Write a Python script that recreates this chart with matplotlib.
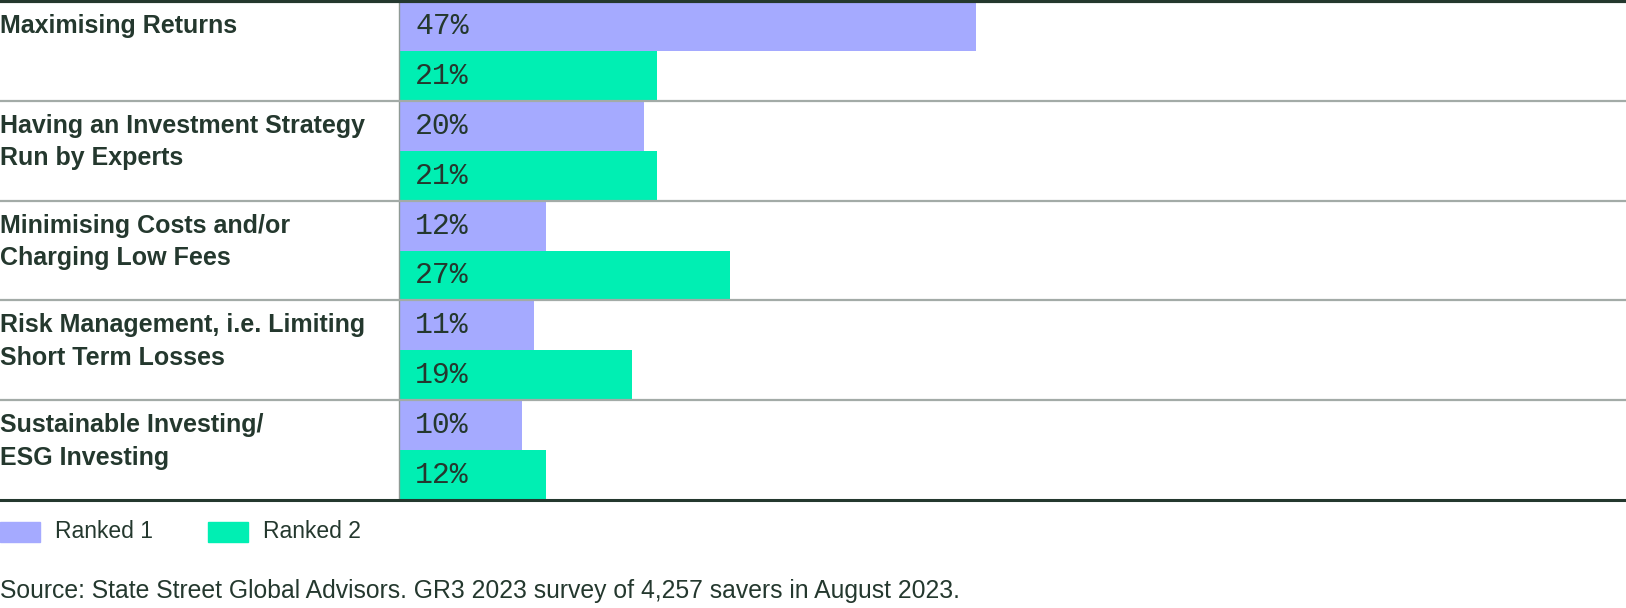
import matplotlib
matplotlib.use("Agg")
import matplotlib.pyplot as plt
import matplotlib.transforms as mtransforms
from matplotlib.patches import Rectangle

categories = ["Maximising Returns",
              "Having an Investment Strategy\nRun by Experts",
              "Minimising Costs and/or\nCharging Low Fees",
              "Risk Management, i.e. Limiting\nShort Term Losses",
              "Sustainable Investing/\nESG Investing"]
ranked1 = [47, 20, 12, 11, 10]
ranked2 = [21, 21, 27, 19, 12]
series_names = ["Ranked 1", "Ranked 2"]
source = "Source: State Street Global Advisors. GR3 2023 survey of 4,257 savers in August 2023."

PURPLE, GREEN = "#a5aaff", "#00efb3"
DARK, GREY = "#24382e", "#a3aba7"

W, H = 1626, 608
fig = plt.figure(figsize=(W / 100, H / 100), dpi=100)
ax = fig.add_axes([399 / W, 1 - 500 / H, (W - 399) / W, 499 / H])

n = len(categories)
y1 = [2 * i + 0.5 for i in range(n)]
y2 = [2 * i + 1.5 for i in range(n)]
ax.barh(y1, ranked1, height=1.0, color=PURPLE, zorder=2)
ax.barh(y2, ranked2, height=1.0, color=GREEN, zorder=2)
for ys, vals in ((y1, ranked1), (y2, ranked2)):
    for y, v in zip(ys, vals):
        ax.annotate(f"{v}%", (0, y), xytext=(16, 0), textcoords="offset pixels",
                    va="center", ha="left", fontsize=21.5, color=DARK,
                    family="Liberation Mono", zorder=3)

ax.set_xlim(0, 100)
ax.set_ylim(2 * n, 0)
ax.set_xticks([]); ax.set_yticks([])
for s in ("top", "right", "bottom"):
    ax.spines[s].set_visible(False)
ax.spines["left"].set_color("#8f9a95"); ax.spines["left"].set_linewidth(1)

# full-width rules and category labels
tr = mtransforms.blended_transform_factory(fig.transFigure, ax.transData)
for k in range(1, n):
    ax.plot([0, 1], [2 * k, 2 * k], transform=tr, color=GREY, lw=1.6, clip_on=False, zorder=4)
ax.plot([0, 1], [0, 0], transform=tr, color=DARK, lw=3, clip_on=False, zorder=5)
ax.plot([0, 1], [2 * n, 2 * n], transform=tr, color=DARK, lw=2.2, clip_on=False, zorder=5)
for i, lab in enumerate(categories):
    t = ax.text(0, 2 * i, lab, transform=tr, va="top", ha="left", fontsize=18,
                fontweight="bold", color=DARK, family="Liberation Sans", linespacing=1.45)
    t.set_transform(tr + mtransforms.ScaledTranslation(0, -13 / 100, fig.dpi_scale_trans))

# legend
ly = 1 - 532 / H
for x0, col, name, tx in ((0, PURPLE, series_names[0], 55), (208, GREEN, series_names[1], 263)):
    fig.patches.append(Rectangle((x0 / W, ly - 10 / H), 40 / W, 20 / H,
                                 transform=fig.transFigure, color=col))
    fig.text(tx / W, ly, name, va="center", ha="left", fontsize=16.5, color=DARK,
             family="Liberation Sans")

fig.text(0, 1 - 591 / H, source, va="center", ha="left", fontsize=17.8, color=DARK,
         family="Liberation Sans")

fig.savefig("out.png", dpi=100)
